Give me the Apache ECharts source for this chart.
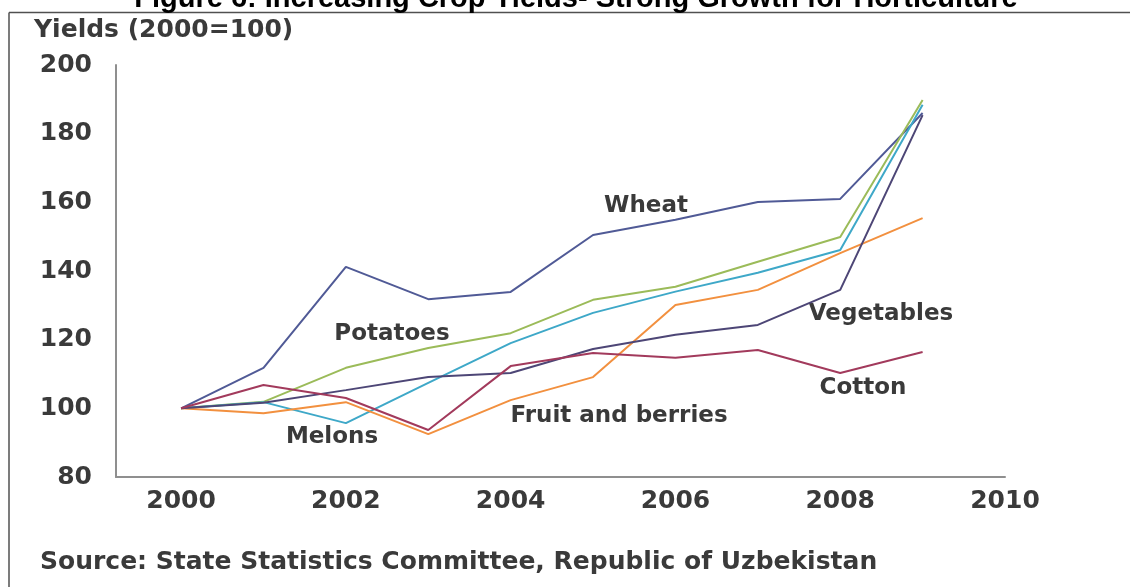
<!DOCTYPE html>
<html>
<head>
<meta charset="utf-8">
<title>Crop yields, Uzbekistan</title>
<script src="https://cdn.jsdelivr.net/npm/echarts@6/dist/echarts.min.js"></script>
<style>
  html, body { margin: 0; padding: 0; background: #ffffff; }
  #chart { width: 1130px; height: 587px; }
</style>
</head>
<body>
<div id="chart"></div>
<script>
// Yield index by crop, 2000 = 100
const years      = [2000, 2001, 2002, 2003, 2004, 2005, 2006, 2007, 2008, 2009];
const wheat      = [100, 111.8, 141.2, 131.8, 133.9, 150.5, 154.9, 160.1, 161.0, 186.0];
const potatoes   = [100, 101.9, 111.8, 117.6, 121.9, 131.6, 135.4, 142.7, 149.9, 189.8];
const melons     = [100, 101.8, 95.7, 107.4, 119.0, 127.8, 134.0, 139.5, 146.1, 188.4];
const fruit      = [100, 98.6, 101.8, 92.5, 102.4, 109.1, 130.1, 134.5, 145.2, 155.4];
const vegetables = [100, 101.6, 105.3, 109.1, 110.3, 117.3, 121.4, 124.3, 134.5, 185.4];
const cotton     = [100, 106.8, 103.0, 93.7, 112.3, 116.1, 114.7, 117.0, 110.3, 116.4];

const xTicks = [2000, 2002, 2004, 2006, 2008, 2010];
const yTicks = [80, 100, 120, 140, 160, 180, 200];

const seriesDefs = [
  { name: 'Wheat',             values: wheat,      color: '#505a96' },
  { name: 'Potatoes',          values: potatoes,   color: '#9bbb59' },
  { name: 'Melons',            values: melons,     color: '#3ea8c8' },
  { name: 'Fruit and berries', values: fruit,      color: '#f2903f' },
  { name: 'Vegetables',        values: vegetables, color: '#4d4676' },
  { name: 'Cotton',            values: cotton,     color: '#a23a5c' }
];

const FONT = 'DejaVu Sans';
const TEXT = '#3a3a3a';

const chart = echarts.init(document.getElementById('chart'), null, { renderer: 'canvas' });

function labelText(text, x, y, size, align) {
  return {
    type: 'text',
    x: x, y: y,
    silent: true,
    style: {
      text: text,
      fill: TEXT,
      font: 'bold ' + size + 'px "' + FONT + '"',
      align: align || 'center',
      verticalAlign: 'middle'
    }
  };
}

chart.setOption({
  backgroundColor: '#ffffff',
  animation: false,
  grid: { left: 116, top: 65, right: 125, bottom: 110, containLabel: false },
  xAxis: {
    type: 'value',
    min: 1999.21,
    max: 2010,
    axisLine: { show: true, lineStyle: { color: '#8f8f8f', width: 2 } },
    axisTick: { show: false },
    splitLine: { show: false },
    axisLabel: {
      customValues: xTicks,
      margin: 12,
      color: TEXT,
      fontFamily: FONT,
      fontWeight: 'bold',
      fontSize: 25,
      formatter: v => String(v)
    }
  },
  yAxis: {
    type: 'value',
    min: yTicks[0],
    max: yTicks[yTicks.length - 1],
    interval: 20,
    axisLine: { show: true, lineStyle: { color: '#8f8f8f', width: 2 } },
    axisTick: { show: false },
    splitLine: { show: false },
    axisLabel: {
      margin: 24,
      color: TEXT,
      fontFamily: FONT,
      fontWeight: 'bold',
      fontSize: 25
    }
  },
  series: seriesDefs.map(s => ({
    name: s.name,
    type: 'line',
    data: years.map((y, i) => [y, s.values[i]]),
    showSymbol: false,
    symbol: 'none',
    lineStyle: { color: s.color, width: 2 },
    itemStyle: { color: s.color },
    emphasis: { disabled: true }
  })),
  graphic: [
    // frame lines
    { type: 'line', silent: true, shape: { x1: 9, y1: 12.5, x2: 1130, y2: 12.5 }, style: { stroke: '#505050', lineWidth: 1.5 } },
    { type: 'line', silent: true, shape: { x1: 9, y1: 12.5, x2: 9, y2: 587 }, style: { stroke: '#505050', lineWidth: 1.5 } },
    // heading, partly above the frame
    {
      type: 'text', x: 576, y: -1, silent: true,
      style: {
        text: 'Figure 6: Increasing Crop Yields- Strong Growth for Horticulture',
        fill: '#000000',
        font: 'bold 29px "Liberation Sans"',
        align: 'center', verticalAlign: 'middle'
      }
    },
    labelText('Yields (2000=100)', 34, 30, 25, 'left'),
    labelText('Wheat', 646, 206, 23),
    labelText('Potatoes', 392, 334, 23),
    labelText('Vegetables', 881, 314, 23),
    labelText('Cotton', 863, 388, 23),
    labelText('Fruit and berries', 619, 416, 23),
    labelText('Melons', 332, 437, 23),
    labelText('Source: State Statistics Committee, Republic of Uzbekistan', 40, 562, 25, 'left')
  ]
});
</script>
</body>
</html>
